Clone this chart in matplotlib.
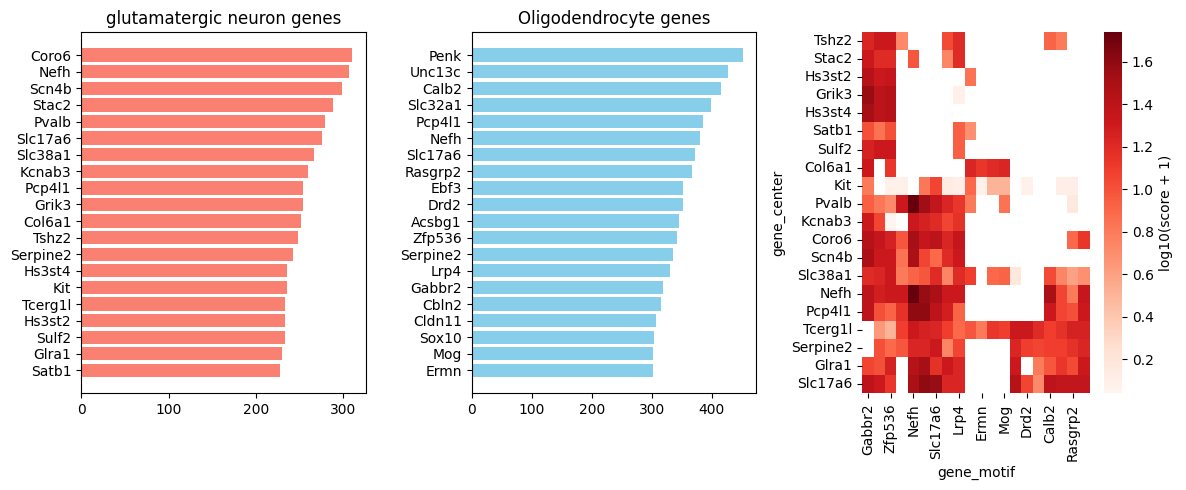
"""
Top marker genes per cell type and the centre/motif co-occurrence heatmap.
"""

import numpy as np
import pandas as pd
import matplotlib
matplotlib.use("Agg")
import matplotlib.pyplot as plt
import seaborn as sns

N = np.nan

# ── Bar data ────────────────────────────────────────────────────────────────
glut_genes = ["Coro6", "Nefh", "Scn4b", "Stac2", "Pvalb", "Slc17a6", "Slc38a1",
              "Kcnab3", "Pcp4l1", "Grik3", "Col6a1", "Tshz2", "Serpine2",
              "Hs3st4", "Kit", "Tcerg1l", "Hs3st2", "Sulf2", "Glra1", "Satb1"]
glut_counts = [310, 307, 298, 288, 279, 276, 266, 259, 254, 254, 251, 248,
               242, 235, 235, 233, 233, 233, 230, 227]

oligo_genes = ["Penk", "Unc13c", "Calb2", "Slc32a1", "Pcp4l1", "Nefh", "Slc17a6",
               "Rasgrp2", "Ebf3", "Drd2", "Acsbg1", "Zfp536", "Serpine2", "Lrp4",
               "Gabbr2", "Cbln2", "Cldn11", "Sox10", "Mog", "Ermn"]
oligo_counts = [451, 427, 415, 398, 385, 380, 372, 367, 352, 352, 345, 342,
                335, 330, 319, 315, 307, 304, 302, 302]

# ── Heatmap data ────────────────────────────────────────────────────────────
gene_center = ["Tshz2", "Stac2", "Hs3st2", "Grik3", "Hs3st4", "Satb1", "Sulf2",
               "Col6a1", "Kit", "Pvalb", "Kcnab3", "Coro6", "Scn4b", "Slc38a1",
               "Nefh", "Pcp4l1", "Tcerg1l", "Serpine2", "Glra1", "Slc17a6"]
gene_motif = ["Gabbr2", "Cbln2", "Zfp536", "Ebf3", "Nefh", "Pcp4l1", "Slc17a6",
              "Unc13c", "Lrp4", "Serpine2", "Ermn", "Cldn11", "Mog", "Sox10",
              "Drd2", "Acsbg1", "Calb2", "Penk", "Rasgrp2", "Slc32a1"]

scores = [
    [1.23, 1.32, 1.32, 0.72, N, N, N, 1.03, 1.20, N, N, N, N, N, N, N, 0.92, 0.81, N, N],
    [1.32, 1.20, 1.20, N, 0.98, N, N, 0.75, 1.20, N, N, N, N, N, N, N, N, N, N, N],
    [1.43, 1.32, 1.35, N, N, N, N, N, N, 0.84, N, N, N, N, N, N, N, N, N, N],
    [1.57, 1.40, 1.43, N, N, N, N, N, 0.09, N, N, N, N, N, N, N, N, N, N, N],
    [1.52, 1.40, 1.43, N, N, N, N, N, N, N, N, N, N, N, N, N, N, N, N, N],
    [1.01, 0.84, 1.01, N, N, N, N, N, 0.94, 0.69, N, N, N, N, N, N, N, N, N, N],
    [1.26, 1.32, 1.32, N, N, N, N, N, 0.94, N, N, N, N, N, N, N, N, N, N, N],
    [1.32, N, 1.13, N, N, N, N, N, N, 1.23, 1.13, 1.20, 1.23, N, N, N, N, N, N, N],
    [0.81, N, 0.09, 0.09, N, 0.82, 1.06, 0.14, 0.11, 0.89, 0.09, 0.50, 0.50, N, 0.09, N, N, 0.11, 0.11, N],
    [0.94, 0.82, 0.72, 1.32, 1.74, 1.54, 1.37, 1.23, 1.13, 0.81, N, N, 0.84, N, N, N, N, N, 0.16, N],
    [1.32, 1.06, 0.04, N, 1.32, 1.26, 1.20, 1.06, 1.16, N, N, N, N, N, N, N, N, N, N, N],
    [1.43, 1.35, 1.26, 0.98, 1.52, 1.35, 1.40, 1.23, 1.35, N, N, N, N, N, N, N, N, N, 0.89, 1.13],
    [1.49, 1.32, 1.32, 0.84, 1.49, 1.06, 0.89, 1.20, 1.32, N, N, N, N, N, N, N, N, N, N, N],
    [1.20, 1.23, 1.32, 0.81, 0.92, 0.98, 1.20, 0.75, 1.20, 1.09, N, 0.89, 0.92, 0.18, N, N, 1.03, 0.75, 0.60, 0.69],
    [1.40, 1.28, 1.32, 1.32, 1.74, 1.57, 1.49, 1.32, 1.32, N, N, N, N, N, N, N, 1.49, 1.06, 0.81, 1.35],
    [1.40, 1.01, 0.92, 1.16, 1.60, 1.60, 1.40, 1.28, 0.92, N, N, N, N, N, N, N, 1.32, 1.06, 1.01, 1.32],
    [N, 0.64, 0.50, 1.09, 1.32, 1.26, 1.23, 1.09, 0.89, 0.98, 0.81, 1.13, 1.09, 1.32, 1.32, 1.20, 1.09, 1.16, 1.26, 1.26],
    [N, 1.01, 0.89, 0.98, 1.23, 1.23, 1.32, 0.75, 1.06, N, N, N, N, 1.23, 1.09, 1.06, 1.09, 1.09, 1.16, 1.23],
    [1.06, 1.01, 1.26, N, 1.43, 1.52, 1.16, 1.32, 1.23, N, N, N, N, 1.32, N, 0.81, 0.98, 1.13, 1.03, 1.32],
    [1.40, 1.32, 1.13, N, 1.49, 1.60, 1.57, 1.23, 1.23, N, N, N, N, 1.43, 1.06, 0.72, 1.40, 1.37, 1.37, 1.37],
]

heat = pd.DataFrame(scores,
                    index=pd.Index(gene_center, name="gene_center"),
                    columns=pd.Index(gene_motif, name="gene_motif"))

fig, axes = plt.subplots(1, 3, figsize=(11.86, 4.9))

# bars, largest on top
ax = axes[0]
ax.barh(glut_genes[::-1], glut_counts[::-1], color="salmon")
ax.set_title("glutamatergic neuron genes")

ax = axes[1]
ax.barh(oligo_genes[::-1], oligo_counts[::-1], color="skyblue")
ax.set_title("Oligodendrocyte genes")

# co-occurrence heatmap
sns.heatmap(heat, cmap="Reds", ax=axes[2],
            cbar_kws={"label": "log10(score + 1)"})

plt.tight_layout(pad=0.7, w_pad=1.08, h_pad=1.08)
fig.savefig("out.png", dpi=100)
